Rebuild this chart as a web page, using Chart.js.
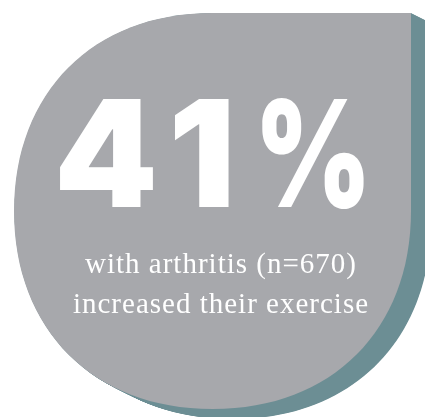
<!DOCTYPE html>
<html>
<head>
<meta charset="utf-8">
<script src="https://cdn.jsdelivr.net/npm/chart.js@4"></script>
<style>
  html, body { margin: 0; padding: 0; background: #ffffff; }
  #wrap { width: 425px; height: 417px; }
</style>
</head>
<body>
<div id="wrap"><canvas id="c" width="425" height="417"></canvas></div>
<script>
// ---- data ----
const statValue = [41];
const statSuffix = ['%'];
const captionLines = ['with arthritis (n=670)', 'increased their exercise'];
const sampleSize = [670];

// ---- drawing helpers ----
function blobPath(ctx, x, y, w, h, R, k) {
  ctx.beginPath();
  ctx.moveTo(x + R, y);
  ctx.lineTo(x + w, y);
  ctx.lineTo(x + w, y + h - R);
  ctx.bezierCurveTo(x + w, y + h - R + k * R, x + w - R + k * R, y + h, x + w - R, y + h);
  ctx.lineTo(x + R, y + h);
  ctx.bezierCurveTo(x + R - k * R, y + h, x, y + h - R + k * R, x, y + h - R);
  ctx.lineTo(x, y + R);
  ctx.bezierCurveTo(x, y + R - k * R, x + R - k * R, y, x + R, y);
  ctx.closePath();
}

const infographic = {
  id: 'infographic',
  beforeDraw(chart) {
    const ctx = chart.ctx;
    const x = 14, y = 13, w = 397, h = 396, R = 198, k = 0.6, offX = 20, offY = 10;
    ctx.save();
    ctx.fillStyle = '#ffffff';
    ctx.fillRect(0, 0, chart.width, chart.height);
    // extruded shadow
    ctx.fillStyle = '#6c8e94';
    const steps = 40;
    for (let s = 1; s <= steps; s++) {
      blobPath(ctx, x + offX * s / steps, y + offY * s / steps, w, h, R, k);
      ctx.fill();
    }
    // main shape
    ctx.fillStyle = '#a7a8ac';
    blobPath(ctx, x, y, w, h, R, k);
    ctx.fill();

    // big number
    ctx.fillStyle = '#ffffff';
    ctx.textBaseline = 'alphabetic';
    ctx.textAlign = 'center';
    ctx.font = '900 148px Inter, "DejaVu Sans", sans-serif';
    const glyphs = String(statValue[0]).split('').concat(statSuffix);
    const centers = [106, 202, 313];
    const squeeze = [1, 1, 0.76];
    glyphs.forEach((ch, i) => {
      ctx.save();
      ctx.translate(centers[i], 207);
      ctx.scale(squeeze[i], 1);
      ctx.fillText(ch, 0, 0);
      ctx.restore();
    });

    // caption
    ctx.font = '29px "Liberation Serif", "Times New Roman", serif';
    ctx.letterSpacing = '1px';
    ctx.fillText(captionLines[0], 221, 273);
    ctx.fillText(captionLines[1], 221, 313);
    ctx.restore();
  }
};

new Chart(document.getElementById('c'), {
  type: 'scatter',
  data: { datasets: [{ label: 'stat', data: [], pointRadius: 0 }] },
  options: {
    responsive: false,
    animation: false,
    events: [],
    plugins: { legend: { display: false }, tooltip: { enabled: false }, title: { display: false } },
    scales: { x: { display: false }, y: { display: false } }
  },
  plugins: [infographic]
});
</script>
</body>
</html>
